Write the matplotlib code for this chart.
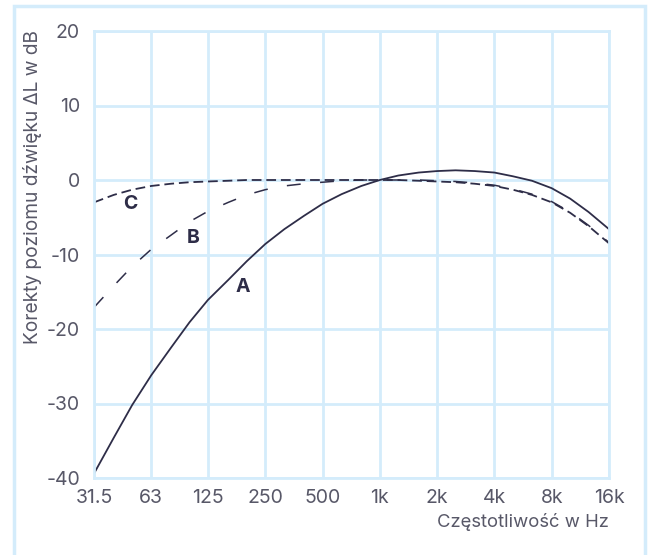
import numpy as np
import matplotlib
matplotlib.use("Agg")
import matplotlib.pyplot as plt
from matplotlib.patches import Rectangle

plt.rcParams['font.family'] = ['Inter', 'DejaVu Sans']
plt.rcParams['lines.scale_dashes'] = False
plt.rcParams['axes.unicode_minus'] = False

# third-octave frequencies and weighting corrections (dB)
freqs = [31.5, 40, 50, 63, 80, 100, 125, 160, 200, 250, 315, 400, 500, 630, 800,
         1000, 1250, 1600, 2000, 2500, 3150, 4000, 5000, 6300, 8000, 10000, 12500, 16000]
curve_a = [-39.4, -34.6, -30.2, -26.2, -22.5, -19.1, -16.1, -13.4, -10.9, -8.6, -6.6, -4.8, -3.2, -1.9, -0.8,
           0.0, 0.6, 1.0, 1.2, 1.3, 1.2, 1.0, 0.5, -0.1, -1.1, -2.5, -4.3, -6.6]
curve_b = [-17.1, -14.2, -11.6, -9.3, -7.4, -5.6, -4.2, -3.0, -2.0, -1.3, -0.8, -0.5, -0.3, -0.1, 0.0,
           0.0, 0.0, 0.0, -0.1, -0.2, -0.4, -0.7, -1.2, -1.9, -2.9, -4.3, -6.1, -8.4]
curve_c = [-3.0, -2.0, -1.3, -0.8, -0.5, -0.3, -0.2, -0.1, 0.0, 0.0, 0.0, 0.0, 0.0, 0.0, 0.0,
           0.0, 0.0, -0.1, -0.2, -0.3, -0.5, -0.8, -1.3, -2.0, -3.0, -4.4, -6.2, -8.5]

tick_freqs = [31.5, 63, 125, 250, 500, 1000, 2000, 4000, 8000, 16000]
tick_labels = ['31.5', '63', '125', '250', '500', '1k', '2k', '4k', '8k', '16k']
y_ticks = [-40, -30, -20, -10, 0, 10, 20]

curve_names = ['A', 'B', 'C']
name_pos = [(190, -14.4), (105, -7.8), (49, -3.2)]

line_col = '#2e2d48'
grid_col = '#d4ecfb'
text_col = '#585868'

fig = plt.figure(figsize=(6.48, 5.55), dpi=100)
ax = fig.add_axes([94 / 648, 1 - 478 / 555, (609 - 94) / 648, (478 - 31) / 555])

# outer light blue frame
fig.patches.append(Rectangle((14 / 648, -0.05), (645 - 14) / 648, 1.05 - 6 / 555,
                             transform=fig.transFigure, fill=False,
                             edgecolor=grid_col, linewidth=2.5))

ax.plot(freqs, curve_a, color=line_col, lw=1.3)
ax.plot(freqs, curve_b, color=line_col, lw=1.1, dashes=(10, 14))
ax.plot(freqs, curve_c, color=line_col, lw=1.3, dashes=(7, 3.5))

for name, (fx, fy) in zip(curve_names, name_pos):
    ax.text(fx, fy, name, color=line_col, fontsize=14, fontweight='bold',
            ha='center', va='center')

ax.set_xscale('log')
ax.set_xlim(31.5, 16000)
ax.set_ylim(-40, 20)
ax.set_xticks(tick_freqs)
ax.set_xticklabels(tick_labels)
ax.xaxis.set_minor_locator(matplotlib.ticker.NullLocator())
ax.set_yticks(y_ticks)

ax.grid(True, color=grid_col, lw=2)
ax.set_axisbelow(True)
for s in ax.spines.values():
    s.set_color(grid_col)
    s.set_linewidth(2)
ax.tick_params(length=0, labelsize=14, labelcolor=text_col)
ax.tick_params(axis='y', pad=10)
ax.tick_params(axis='x', pad=8)

ax.set_ylabel('Korekty poziomu dźwięku ΔL w dB', color=text_col, fontsize=13.8)
ax.yaxis.set_label_coords(-0.1, 0.65)
ax.set_xlabel('Częstotliwość w Hz', color=text_col, fontsize=13.3, loc='right')

fig.savefig('out.png', dpi=100)
